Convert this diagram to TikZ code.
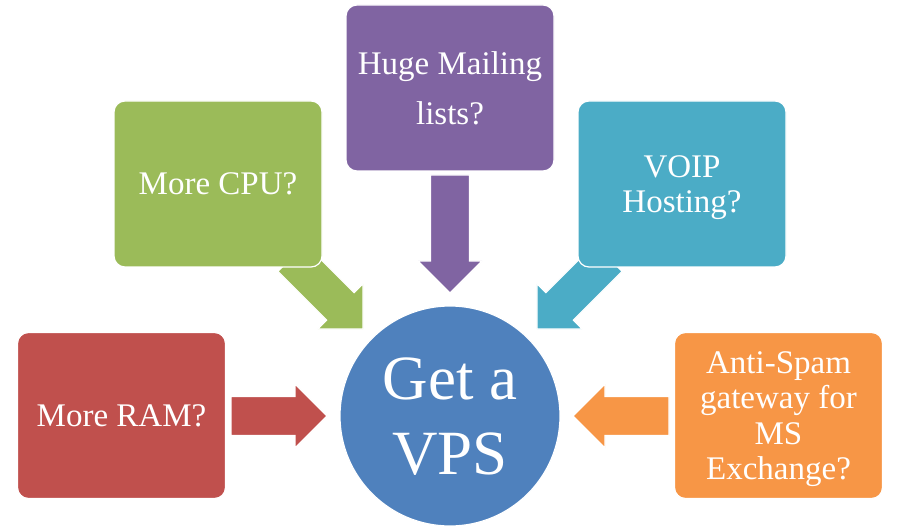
\documentclass[tikz,border=0pt]{standalone}
\usepackage{fontspec}
\setmainfont{Liberation Serif}
\usetikzlibrary{calc,backgrounds}

\definecolor{vpsblue}{HTML}{4F81BD}
\definecolor{cpugreen}{HTML}{9BBB59}
\definecolor{mailpurple}{HTML}{8064A2}
\definecolor{voipcyan}{HTML}{4BACC6}
\definecolor{ramred}{HTML}{C0504D}
\definecolor{spamorange}{HTML}{F79646}

\tikzset{
  box/.style={rectangle, rounded corners=11pt, draw=white, line width=1.2pt,
    minimum width=208pt, minimum height=166pt, inner sep=2pt, text=white,
    align=center, text depth=0pt, font=\fontsize{33}{35.5}\selectfont},
  hub/.style={circle, fill=vpsblue, draw=white, line width=1.2pt,
    minimum size=220pt, inner sep=0pt, text=white, align=center,
    text depth=0pt, font=\fontsize{63}{75}\selectfont},
  blockarrow/.style={draw=white, line width=1.2pt}
}

\begin{document}
\begin{tikzpicture}[x=1pt,y=1pt]
   \useasboundingbox (0,0) rectangle (900,531);
   \node[hub] (vps) at (450,115) {Get a\\VPS};
   \node[box, fill=cpugreen] (cpu) at (218,347) {More CPU?};
   \node[box, fill=mailpurple] (mail) at (450,443) {Huge Mailing\\[15pt]lists?};
   \node[box, fill=voipcyan] (voip) at (682,347) {VOIP\\Hosting?};
   \node[box, fill=ramred] (ram) at (121.5,115.5) {More RAM?};
   \node[box, fill=spamorange] (spam) at (778.5,115.5) {Anti-Spam\\gateway for\\MS\\Exchange?};
   % block arrows, tips 13pt off the circle
   \begin{scope}[on background layer]
   \foreach \n/\c/\a/\l in {cpu/cpugreen/135/101, mail/mailpurple/90/118,
       voip/voipcyan/45/101, ram/ramred/180/96, spam/spamorange/0/96} {
    \filldraw[blockarrow, fill=\c, shift={($(vps)+(\a:123)$)}, rotate=\a+180]
     (0,0) -- (-32,32) -- (-32,19.5) -- (-\l,19.5) --
      (-\l,-19.5) -- (-32,-19.5) -- (-32,-32) -- cycle;
   }
   \end{scope}
  \end{tikzpicture}
\end{document}
